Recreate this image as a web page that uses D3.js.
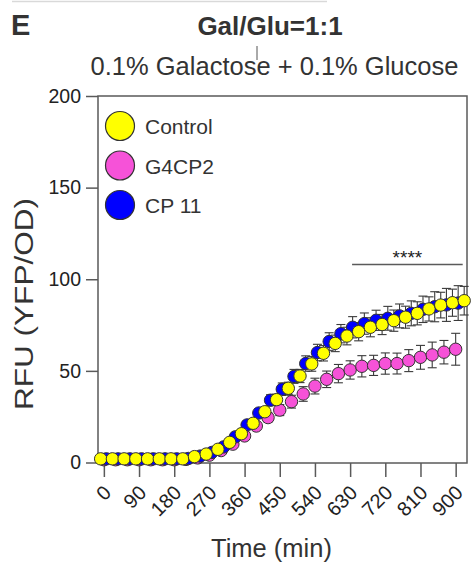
<!DOCTYPE html>
<html lang="en">
  <head>
    <meta charset="UTF-8" />
    <title>Gal/Glu=1:1</title>
    <style>
      body {
        margin: 0;
        background: #fff;
      }
      #my_dataviz {
        width: 474px;
        height: 564px;
      }
      text {
        font-family: "Liberation Sans", Arial, sans-serif;
      }
    </style>
  </head>
  <body>
    <div id="my_dataviz"></div>
    <script src="https://cdn.jsdelivr.net/npm/d3@7"></script>
    <script>
      var timeMin = [0, 30, 60, 90, 120, 150, 180, 210, 240, 270, 300, 330, 360, 390, 420, 450,
        480, 510, 540, 570, 600, 630, 660, 690, 720, 750, 780, 810, 840, 870, 900, 930];

      var control = [2, 2, 2, 2, 2, 2, 2, 2, 3.2, 4.6, 7.2, 11, 15.7, 21.4, 27.7, 34.3,
        40.5, 47.2, 53.8, 59.6, 65, 69, 71.4, 73.8, 75.3, 77.4, 79.3, 81.4, 83.8, 85.9, 87.2, 88.3];
      var controlErr = [0.5, 0.5, 0.5, 0.5, 0.5, 0.5, 0.5, 0.5, 0.6, 0.8, 1, 1.3, 1.7, 2, 2.5, 3,
        3.3, 3.6, 4, 4.2, 4.5, 4.8, 5, 5.2, 5.5, 5.8, 6, 6.3, 6.6, 7, 7.4, 7.8];

      var g4cp2 = [1.5, 1.5, 1.5, 1.5, 1.5, 1.5, 1.5, 1.7, 2.5, 4, 6.5, 10, 14.5, 19.9, 24.5, 28.6,
        33.2, 37.4, 41.7, 45.4, 48.5, 50.5, 52.5, 53, 54, 54, 55.6, 57.4, 58.7, 60.2, 61.8];
      var g4cp2Err = [0.4, 0.4, 0.4, 0.4, 0.4, 0.4, 0.4, 0.4, 0.6, 0.8, 1, 1.3, 1.6, 2, 2.5, 3,
        3.5, 4, 4.3, 4.5, 5, 5, 5.8, 5.5, 5.8, 5.7, 6, 6.5, 7, 6.4, 8.7];

      var cp11 = [2, 2, 2, 2, 2, 2, 2, 2.2, 3.5, 5.5, 8.5, 14, 20.5, 27, 34, 40,
        47, 54, 60, 66, 70.3, 73.8, 75.8, 77.6, 78.7, 80, 81.4, 83.6, 85, 86, 87];
      var cp11Err = [0.5, 0.5, 0.5, 0.5, 0.5, 0.5, 0.5, 0.5, 0.7, 0.9, 1.2, 1.6, 2, 2.5, 3, 3.4,
        3.8, 4.2, 4.5, 4.8, 5, 5.8, 5.8, 5.5, 6.5, 6.5, 6.8, 7.2, 8.2, 9, 9.5];

      var seriesNames = ["Control", "G4CP2", "CP 11"];
      var xTicks = [0, 90, 180, 270, 360, 450, 540, 630, 720, 810, 900];
      var yTicks = [0, 50, 100, 150, 200];
      var sigSpan = [635, 918]; // bracket for ****
      var sigLevel = 108;

      var width = 474;
      var height = 564;
      var plotLeft = 98,
        plotRight = 467,
        plotTop = 96,
        plotBottom = 463;

      var svg = d3
        .select("#my_dataviz")
        .append("svg")
        .attr("width", width)
        .attr("height", height);

      var x = d3.scaleLinear().domain([-15, 929]).range([plotLeft, plotRight]);
      var y = d3.scaleLinear().domain([0, 200]).range([462.5, plotTop]);

      // colour + small horizontal dodge per series, as in the figure
      var series = [
        { name: seriesNames[1], values: g4cp2, err: g4cp2Err, color: "#f652d8", dodge: 0 },
        { name: seriesNames[2], values: cp11, err: cp11Err, color: "#0000ff", dodge: 2.5 },
        { name: seriesNames[0], values: control, err: controlErr, color: "#ffff00", dodge: -3.2 },
      ];

      // faint leftovers of the panel above
      svg
        .append("line")
        .attr("x1", 12)
        .attr("x2", 327)
        .attr("y1", 1.5)
        .attr("y2", 1.5)
        .attr("stroke", "#d9d9d9")
        .attr("stroke-width", 1.5);
      svg
        .append("line")
        .attr("x1", 257)
        .attr("x2", 257)
        .attr("y1", 46)
        .attr("y2", 60)
        .attr("stroke", "#555")
        .attr("stroke-width", 1);

      // titles
      svg
        .append("text")
        .attr("x", 11)
        .attr("y", 35)
        .attr("font-size", 29)
        .attr("font-weight", "bold")
        .attr("fill", "#333")
        .text("E");
      svg
        .append("text")
        .attr("x", 270)
        .attr("y", 35)
        .attr("text-anchor", "middle")
        .attr("font-size", 26)
        .attr("font-weight", "bold")
        .attr("fill", "#333")
        .text("Gal/Glu=1:1");
      svg
        .append("text")
        .attr("x", 274.5)
        .attr("y", 75)
        .attr("text-anchor", "middle")
        .attr("font-size", 25.5)
        .attr("fill", "#333")
        .text("0.1% Galactose + 0.1% Glucose");

      // axes
      var yAxis = svg
        .append("g")
        .attr("transform", "translate(" + plotLeft + ",0)")
        .call(d3.axisLeft(y).tickValues(yTicks).tickSize(12).tickPadding(5));
      yAxis.select(".domain").remove();
      yAxis.selectAll(".tick line").attr("stroke", "#5a5a5a").attr("stroke-width", 1.5);
      yAxis
        .selectAll("text")
        .attr("fill", "#222")
        .attr("font-size", 19.5)
        .attr("font-family", "Liberation Sans, Arial, sans-serif");

      var xAxis = svg
        .append("g")
        .attr("transform", "translate(0," + plotBottom + ")")
        .call(d3.axisBottom(x).tickValues(xTicks).tickSize(14));
      xAxis.select(".domain").remove();
      xAxis.selectAll(".tick line").attr("stroke", "#5a5a5a").attr("stroke-width", 1.5);
      xAxis
        .selectAll("text")
        .attr("x", 0)
        .attr("y", 0)
        .attr("dy", "0.35em")
        .attr("transform", "translate(3,26) rotate(-45)")
        .style("text-anchor", "end")
        .attr("fill", "#222")
        .attr("font-size", 20)
        .attr("font-family", "Liberation Sans, Arial, sans-serif");

      // frame
      svg
        .append("rect")
        .attr("x", plotLeft)
        .attr("y", plotTop)
        .attr("width", plotRight - plotLeft)
        .attr("height", plotBottom - plotTop)
        .attr("fill", "none")
        .attr("stroke", "#5a5a5a")
        .attr("stroke-width", 1.5);

      // axis titles
      svg
        .append("text")
        .attr("transform", "translate(33,304) rotate(-90)")
        .attr("text-anchor", "middle")
        .attr("font-size", 25)
        .attr("textLength", 212)
        .attr("lengthAdjust", "spacingAndGlyphs")
        .attr("fill", "#333")
        .text("RFU (YFP/OD)");
      svg
        .append("text")
        .attr("x", 271.5)
        .attr("y", 557)
        .attr("text-anchor", "middle")
        .attr("font-size", 25.5)
        .attr("fill", "#333")
        .text("Time (min)");

      // error bars
      series.forEach(function (s) {
        var g = svg.append("g").attr("stroke", "#3a3a3a").attr("stroke-width", 1.1);
        s.values.forEach(function (v, i) {
          var cx = x(timeMin[i]) + s.dodge;
          var y0 = y(v - s.err[i]);
          var y1 = y(v + s.err[i]);
          g.append("line").attr("x1", cx).attr("x2", cx).attr("y1", y0).attr("y2", y1);
          g.append("line").attr("x1", cx - 4.5).attr("x2", cx + 4.5).attr("y1", y0).attr("y2", y0);
          g.append("line").attr("x1", cx - 4.5).attr("x2", cx + 4.5).attr("y1", y1).attr("y2", y1);
        });
      });

      // points
      series.forEach(function (s) {
        svg
          .append("g")
          .selectAll("circle")
          .data(s.values)
          .enter()
          .append("circle")
          .attr("cx", function (d, i) {
            return x(timeMin[i]) + s.dodge;
          })
          .attr("cy", function (d) {
            return y(d);
          })
          .attr("r", 6.2)
          .attr("fill", s.color)
          .attr("stroke", "#333")
          .attr("stroke-width", 1);
      });

      // significance bracket
      svg
        .append("line")
        .attr("x1", x(sigSpan[0]))
        .attr("x2", x(sigSpan[1]))
        .attr("y1", y(sigLevel))
        .attr("y2", y(sigLevel))
        .attr("stroke", "#5a5a5a")
        .attr("stroke-width", 1.5);
      svg
        .append("text")
        .attr("x", (x(sigSpan[0]) + x(sigSpan[1])) / 2)
        .attr("y", y(sigLevel) - 1)
        .attr("text-anchor", "middle")
        .attr("font-size", 19)
        .attr("fill", "#222")
        .text("****");

      // legend
      var legendOrder = [
        { name: seriesNames[0], color: "#ffff00" },
        { name: seriesNames[1], color: "#f652d8" },
        { name: seriesNames[2], color: "#0000ff" },
      ];
      var legend = svg
        .append("g")
        .selectAll("g")
        .data(legendOrder)
        .enter()
        .append("g")
        .attr("transform", function (d, i) {
          return "translate(120," + (126 + i * 39.5) + ")";
        });
      legend
        .append("circle")
        .attr("r", 14.5)
        .attr("fill", function (d) {
          return d.color;
        })
        .attr("stroke", "#333")
        .attr("stroke-width", 1.2);
      legend
        .append("text")
        .attr("x", 25)
        .attr("y", 8)
        .attr("font-size", 21)
        .attr("fill", "#333")
        .text(function (d) {
          return d.name;
        });
    </script>
  </body>
</html>
